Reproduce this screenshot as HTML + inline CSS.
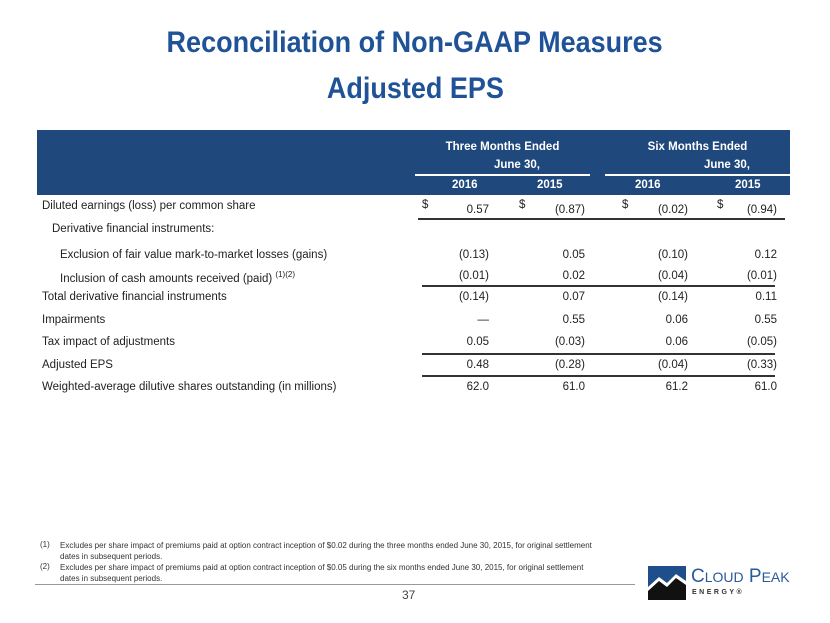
<!DOCTYPE html>
<html><head><meta charset="utf-8"><style>
body{margin:0;background:#fff;}
#page{position:relative;width:830px;height:623px;overflow:hidden;font-family:"Liberation Sans",sans-serif;color:#222;}
.t{position:absolute;white-space:nowrap;}
.title{font-weight:bold;color:#1f5296;font-size:30px;left:0;width:830px;text-align:center;}
.title span{display:inline-block;transform:scaleX(0.9);}
.hdr{color:#fff;font-weight:bold;font-size:11.5px;}
.lbl{font-size:11.5px;}
.val{font-size:11.5px;text-align:right;}
.line{position:absolute;height:1.5px;background:#333;}
.fn{font-size:8px;color:#333;}
</style></head><body>
<div id="page">
<div class="t title" style="top:26px"><span>Reconciliation of Non-GAAP Measures</span></div>
<div class="t title" style="top:72px"><span>Adjusted EPS</span></div>
<div style="position:absolute;left:37px;top:130px;width:753px;height:65px;background:#1f497d"></div>
<div class="t hdr" style="left:415px;width:175px;text-align:center;top:141px">Three Months Ended</div>
<div class="t hdr" style="left:415px;width:175px;text-align:right;top:159px"><span style="position:relative;left:-50px">June 30,</span></div>
<div class="t hdr" style="left:605px;width:185px;text-align:center;top:141px">Six Months Ended</div>
<div class="t hdr" style="left:605px;width:185px;text-align:right;top:159px"><span style="position:relative;left:-40px">June 30,</span></div>
<div style="position:absolute;left:415px;top:174px;width:175px;height:1.5px;background:#fff"></div>
<div style="position:absolute;left:605px;top:174px;width:185px;height:1.5px;background:#fff"></div>
<div class="t hdr" style="left:452px;top:179px">2016</div>
<div class="t hdr" style="left:537px;top:179px">2015</div>
<div class="t hdr" style="left:635px;top:179px">2016</div>
<div class="t hdr" style="left:735px;top:179px">2015</div>
<div id="rows"></div>
<div class="t fn" style="left:40px;top:540px">(1)</div>
<div class="t fn" style="left:60px;top:540px;line-height:11px">Excludes per share impact of premiums paid at option contract inception of $0.02 during the three months ended June 30, 2015, for original settlement<br>dates in subsequent periods.</div>
<div class="t fn" style="left:40px;top:562px">(2)</div>
<div class="t fn" style="left:60px;top:562px;line-height:11px">Excludes per share impact of premiums paid at option contract inception of $0.05 during the six months ended June 30, 2015, for original settlement<br>dates in subsequent periods.</div>
<div style="position:absolute;left:35px;top:584px;width:600px;height:1px;background:#999"></div>
<div class="t" style="left:402px;top:588px;font-size:12px;color:#444">37</div>
<svg style="position:absolute;left:648px;top:566px" width="38" height="34">
<rect x="0" y="0" width="38" height="34" fill="#1f4e8c"/>
<path d="M0 21 L11 11 L19 17 L28 8 L38 15 L38 34 L0 34Z" fill="#111"/>
<path d="M0 21 L11 11 L19 17 L28 8 L38 15 L38 19 L28 12 L19 21 L11 15 L0 25Z" fill="#fff"/>
</svg>
<div class="t" style="left:691px;top:566px;font-size:19px;color:#2a5a9a">C<span style="font-size:14px">LOUD</span> P<span style="font-size:14px">EAK</span></div>
<div class="t" style="left:692px;top:589px;font-size:7px;font-weight:bold;letter-spacing:2.5px;color:#333">ENERGY®</div>
</div>
<script>
const labels=["Diluted earnings (loss) per common share","Derivative financial instruments:","Exclusion of fair value mark-to-market losses (gains)","Inclusion of cash amounts received (paid) <sup style='font-size:8px'>(1)(2)</sup>","Total derivative financial instruments","Impairments","Tax impact of adjustments","Adjusted EPS","Weighted-average dilutive shares outstanding (in millions)"];
const indents=[0,10,18,18,0,0,0,0,0];
const q2016=["0.57","","(0.13)","(0.01)","(0.14)","—","0.05","0.48","62.0"];
const q2015=["(0.87)","","0.05","0.02","0.07","0.55","(0.03)","(0.28)","61.0"];
const h2016=["(0.02)","","(0.10)","(0.04)","(0.14)","0.06","0.06","(0.04)","61.2"];
const h2015=["(0.94)","","0.12","(0.01)","0.11","0.55","(0.05)","(0.33)","61.0"];
const rowY=[200,223,249,270,291,314,336,359,381];
const colRight=[489,585,688,777];
const cols=[q2016,q2015,h2016,h2015];
const dollarX=[422,519,622,717];
const rules=[218,285,353,375];
const root=document.getElementById('rows');
labels.forEach((l,i)=>{
  const d=document.createElement('div');d.className='t lbl';
  d.style.left=(42+indents[i])+'px';d.style.top=rowY[i]+'px';d.innerHTML=l;
  
  
  root.appendChild(d);
  cols.forEach((c,j)=>{
    if(!c[i])return;
    const v=document.createElement('div');v.className='t val';
    v.style.left=(colRight[j]-60)+'px';v.style.width='60px';v.style.top=(rowY[i]+(i===0?4:0))+'px';v.textContent=c[i];
    
    
    root.appendChild(v);
  });
});
dollarX.forEach(x=>{
  const s=document.createElement('div');s.className='t lbl';s.style.left=x+'px';s.style.top=(rowY[0]-1)+'px';s.textContent='$';
  
  
  root.appendChild(s);
});
rules.forEach((y,k)=>{
  const r=document.createElement('div');r.className='line';
  r.style.top=y+'px';r.style.left=(k===0?418:422)+'px';r.style.width=(k===0?367:353)+'px';
  
  
  root.appendChild(r);
});
</script>
</body></html>
